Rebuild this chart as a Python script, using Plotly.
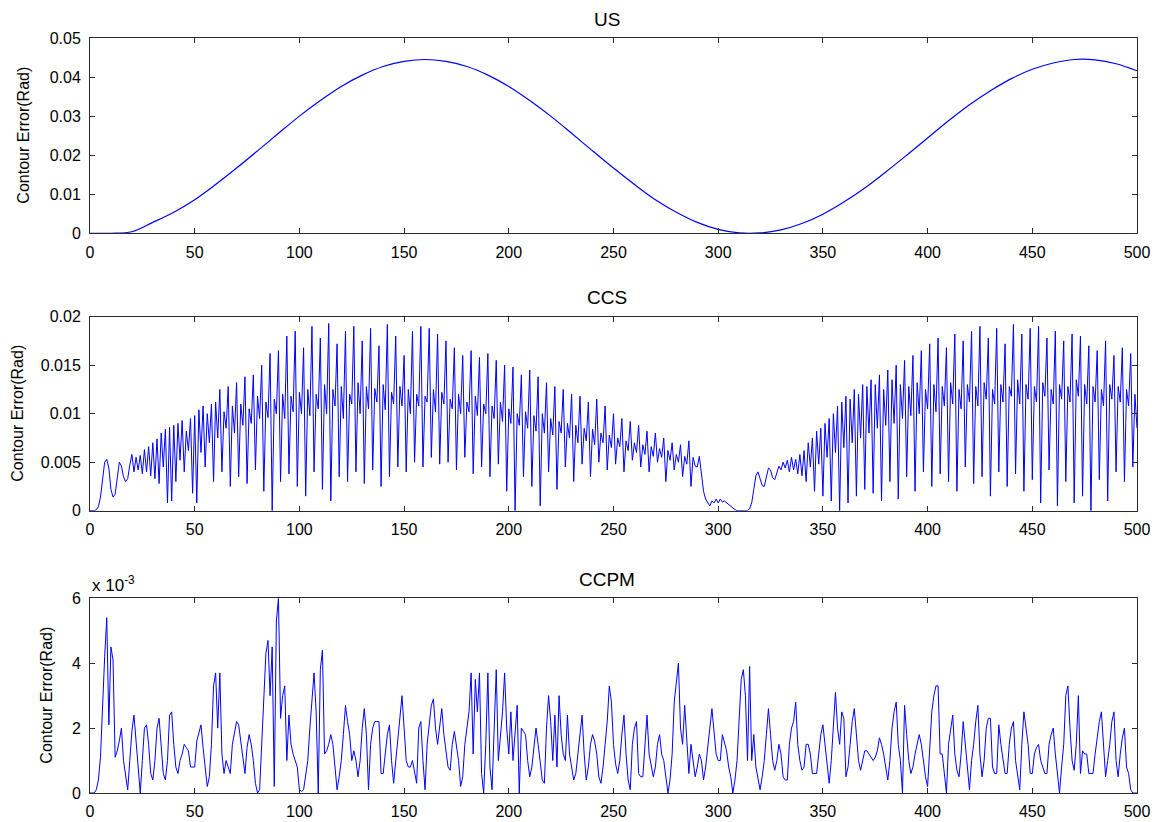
import numpy as np
import plotly.graph_objects as go

# ---------------- data ----------------
# US: contour error (rad), sampled every 10 steps
US_X = list(range(0, 501, 10))
US_ERR = [
    0.0000, 0.0000, 0.0004, 0.0028, 0.0054, 0.0086, 0.0125, 0.0167, 0.0211, 0.0256,
    0.0300, 0.0340, 0.0376, 0.0405, 0.0427, 0.0440, 0.0445, 0.0440, 0.0427, 0.0405,
    0.0376, 0.0340, 0.0300, 0.0256, 0.0211, 0.0167, 0.0125, 0.0086, 0.0054, 0.0028,
    0.0010, 0.0001, 0.0001, 0.0009, 0.0025, 0.0049, 0.0080, 0.0116, 0.0157, 0.0200,
    0.0244, 0.0288, 0.0329, 0.0365, 0.0396, 0.0420, 0.0436, 0.0445, 0.0444, 0.0434,
    0.0416,
]

# CCS: contour error in units of 1e-4 rad, one value per step (0..500)
CCS_ERR_E4 = [
    0, 0, 0, 1, 4, 14, 32, 50, 53, 44,
    22, 14, 17, 33, 50, 46, 35, 30, 33, 47,
    58, 40, 55, 42, 57, 38, 63, 40, 66, 36,
    70, 33, 74, 28, 80, 45, 84, 8, 86, 10,
    88, 30, 90, 52, 93, 40, 82, 62, 95, 18,
    98, 8, 104, 60, 108, 45, 100, 70, 110, 30,
    112, 75, 125, 40, 102, 85, 128, 25, 108, 80,
    132, 35, 110, 88, 138, 28, 105, 90, 140, 42,
    118, 95, 150, 20, 112, 96, 162, 0, 115, 100,
    165, 30, 120, 95, 180, 38, 118, 102, 185, 25,
    122, 100, 168, 15, 125, 98, 190, 40, 120, 105,
    178, 22, 130, 100, 193, 10, 125, 108, 172, 35,
    128, 95, 185, 30, 120, 110, 190, 40, 132, 100,
    175, 28, 128, 105, 188, 42, 126, 112, 170, 25,
    130, 104, 192, 35, 122, 110, 180, 45, 128, 108,
    160, 40, 125, 100, 185, 50, 120, 108, 190, 45,
    118, 112, 188, 55, 125, 102, 182, 48, 122, 110,
    175, 50, 115, 105, 168, 42, 120, 100, 160, 55,
    112, 102, 165, 38, 118, 98, 158, 45, 110, 100,
    162, 35, 108, 95, 155, 48, 112, 92, 150, 20,
    105, 90, 148, 0, 100, 88, 140, 35, 102, 85,
    145, 25, 98, 82, 138, 5, 100, 80, 132, 40,
    95, 78, 128, 22, 92, 80, 125, 45, 90, 75,
    120, 30, 88, 70, 118, 48, 85, 72, 112, 35,
    84, 68, 115, 50, 80, 70, 108, 42, 78, 65,
    100, 48, 75, 66, 95, 40, 72, 62, 92, 52,
    70, 60, 88, 45, 68, 58, 82, 40, 66, 56,
    80, 50, 64, 55, 75, 30, 62, 52, 70, 42,
    58, 50, 68, 35, 56, 48, 72, 25, 55, 46,
    45, 56, 40, 20, 12, 8, 5, 10, 8, 12,
    8, 12, 9, 10, 8, 6, 4, 2, 1, 0,
    0, 0, 0, 0, 0, 2, 8, 22, 36, 40,
    34, 26, 25, 35, 44, 42, 34, 32, 38, 46,
    42, 50, 44, 52, 40, 55, 42, 53, 38, 58,
    36, 62, 30, 70, 45, 75, 20, 82, 48, 85,
    15, 90, 55, 95, 10, 100, 60, 108, 0, 112,
    65, 118, 8, 115, 70, 125, 15, 120, 75, 130,
    22, 128, 80, 135, 18, 130, 85, 140, 10, 125,
    88, 145, 30, 135, 90, 150, 12, 130, 95, 155,
    35, 128, 98, 160, 20, 132, 100, 165, 40, 125,
    105, 172, 25, 130, 102, 178, 38, 128, 108, 168,
    30, 132, 110, 182, 20, 125, 105, 175, 45, 130,
    112, 185, 28, 128, 108, 190, 35, 132, 115, 178,
    15, 125, 110, 188, 40, 130, 112, 172, 25, 128,
    118, 192, 38, 135, 110, 182, 20, 130, 115, 188,
    32, 128, 112, 190, 8, 132, 118, 178, 42, 125,
    110, 185, 5, 130, 115, 175, 30, 128, 112, 182,
    8, 135, 118, 180, 15, 130, 110, 170, 0, 128,
    112, 165, 32, 125, 108, 175, 10, 130, 115, 160,
    40, 128, 112, 168, 30, 125, 108, 162, 45, 120,
    85,
]

# CCPM: contour error in units of 1e-3 rad, one value per step (0..500)
CCPM_ERR_E3 = [
    0.0, 0.0, 0.0, 0.1, 0.4, 1.1, 2.9, 4.2, 5.4, 2.1,
    4.5, 4.1, 1.1, 1.3, 1.6, 2.0, 1.0, 0.5, 0.1, 1.0,
    1.9, 2.4, 1.6, 1.0, 0.0, 1.0, 2.0, 2.1, 1.5, 0.6,
    0.4, 1.0, 2.0, 2.3, 1.5, 0.6, 0.4, 1.0, 2.4, 2.5,
    1.5, 0.8, 0.6, 1.0, 1.2, 1.5, 1.4, 1.3, 0.8, 0.8,
    0.8, 1.6, 1.9, 2.1, 1.4, 0.8, 0.2, 0.5, 1.5, 3.3,
    3.7, 2.0, 3.7, 1.2, 0.6, 1.0, 0.8, 0.6, 1.5, 1.9,
    2.2, 2.1, 1.6, 1.0, 0.6, 1.4, 1.8, 1.5, 1.0, 0.3,
    0.0, 0.1, 1.5, 2.8, 4.3, 4.7, 3.0, 4.5, 0.2, 5.3,
    6.0, 2.3, 3.0, 3.3, 1.0, 2.4, 1.5, 1.2, 1.0, 0.8,
    0.1, 0.05, 0.1, 0.5, 1.0, 2.0, 2.8, 3.7, 2.5, 0.0,
    3.8, 4.4, 1.2, 1.3, 1.5, 1.8, 1.5, 0.8, 0.1, 0.5,
    1.0, 1.8, 2.7, 2.2, 1.8, 1.0, 1.3, 1.0, 0.5, 1.0,
    2.0, 2.6, 1.8, 0.1, 1.5, 2.0, 2.2, 2.2, 2.2, 0.6,
    0.6, 1.2, 1.8, 2.1, 1.0, 0.3, 1.0, 1.8, 2.5, 3.0,
    2.0, 1.0, 0.8, 0.8, 1.0, 0.6, 0.3, 2.0, 2.2, 1.0,
    0.1, 1.5, 2.2, 2.7, 2.9, 2.0, 1.5, 2.0, 2.6, 1.8,
    1.2, 0.8, 0.7, 1.5, 1.9, 1.5, 1.0, 0.2, 0.5, 1.5,
    2.0, 2.5, 3.7, 1.2, 3.5, 2.5, 3.7, 0.6, 0.0, 1.5,
    3.7, 0.8, 0.1, 2.0, 3.8, 1.0, 1.8, 2.5, 3.7, 2.0,
    1.2, 2.5, 1.0, 2.0, 2.7, 0.0, 2.0, 1.9, 1.8, 1.0,
    0.5, 0.8, 1.5, 2.0, 1.5, 1.0, 0.4, 0.3, 2.0, 3.0,
    2.2, 1.0, 2.4, 0.8, 3.0, 1.8, 1.2, 1.0, 2.4, 1.2,
    0.8, 0.4, 0.6, 1.2, 1.8, 2.4, 1.2, 0.4, 0.8, 1.5,
    1.8, 1.6, 1.2, 0.5, 0.3, 0.8, 1.5, 2.2, 3.3, 2.8,
    1.5, 0.9, 0.6, 1.0, 1.8, 2.4, 1.2, 0.4, 0.1, 1.5,
    2.0, 2.2, 0.6, 0.5, 0.5, 1.5, 2.4, 1.2, 0.9, 0.5,
    0.8, 1.5, 1.8, 1.2, 1.0, 0.4, 0.0, 0.4, 1.2, 2.8,
    3.5, 4.0, 2.0, 1.5, 2.7, 1.5, 0.6, 1.5, 1.0, 0.5,
    0.8, 1.2, 1.0, 0.4, 0.8, 1.5, 2.0, 2.6, 1.8, 1.2,
    1.0, 1.0, 1.8, 1.5, 1.3, 0.8, 0.5, 0.0, 0.4, 1.0,
    2.5, 3.5, 3.8, 3.0, 1.0, 3.9, 1.0, 1.8, 0.8, 0.4,
    0.1, 0.5, 1.0, 1.8, 2.6, 1.8, 1.0, 0.7, 1.0, 1.5,
    1.2, 0.5, 0.4, 0.4, 1.5, 2.0, 2.2, 2.8, 1.5, 1.0,
    0.7, 0.8, 1.5, 1.5, 1.2, 0.6, 0.6, 0.6, 1.2, 1.8,
    2.1, 1.5, 0.8, 0.3, 1.0, 2.0, 3.1, 2.0, 1.5, 2.5,
    2.3, 0.5, 0.8, 1.5, 2.2, 2.6, 1.8, 1.0, 0.7, 1.0,
    1.3, 1.3, 1.2, 1.1, 1.0, 1.1, 1.3, 1.7, 1.5, 1.2,
    0.8, 0.4, 1.0, 2.0, 2.5, 2.8, 1.5, 1.0, 0.0, 2.7,
    1.8, 1.0, 0.6, 0.8, 1.2, 1.5, 1.8, 1.5, 1.0, 0.5,
    0.2, 1.5, 2.5, 3.0, 3.3, 3.3, 1.2, 1.2, 0.6, 0.0,
    1.5, 2.0, 2.4, 1.2, 0.7, 0.5, 1.2, 2.2, 1.5, 1.0,
    0.1, 1.0, 1.5, 2.2, 2.7, 1.2, 0.5, 1.0, 2.0, 2.3,
    2.3, 0.8, 0.6, 0.6, 2.1, 1.5, 1.0, 0.6, 0.6, 1.5,
    2.0, 2.2, 1.0, 0.5, 0.1, 1.5, 2.5, 2.0, 1.5, 0.6,
    0.6, 1.2, 1.4, 1.5, 1.0, 0.8, 0.6, 0.6, 1.5, 1.8,
    2.0, 1.2, 0.5, 0.0, 0.8, 1.5, 3.0, 3.3, 2.0, 1.0,
    0.7, 1.5, 3.0, 0.6, 1.3, 1.2, 1.2, 0.6, 0.6, 0.6,
    1.2, 1.7, 2.2, 2.5, 1.5, 0.5, 1.0, 1.5, 2.2, 2.5,
    1.0, 0.5, 1.2, 1.7, 2.0, 0.8, 0.6, 0.1, 0.0, 0.0,
    0.0,
]

X_TICKS = [0, 50, 100, 150, 200, 250, 300, 350, 400, 450, 500]
US_TICKS = [0, 0.01, 0.02, 0.03, 0.04, 0.05]
US_TICKTEXT = ["0", "0.01", "0.02", "0.03", "0.04", "0.05"]
CCS_TICKS = [0, 0.005, 0.01, 0.015, 0.02]
CCS_TICKTEXT = ["0", "0.005", "0.01", "0.015", "0.02"]
CCPM_TICKS = [0, 2, 4, 6]
CCPM_TICKTEXT = ["0", "2", "4", "6"]

PANEL_TITLES = ["US", "CCS", "CCPM"]
Y_LABEL = "Contour Error(Rad)"

# ---------------- figure ----------------
BLUE = "#0000ff"
FRAME = "#2b2b2b"
FONT = "Liberation Sans, Arial, sans-serif"

ccs_x = np.arange(len(CCS_ERR_E4))
ccs_y = np.array(CCS_ERR_E4) * 1e-4
ccpm_x = np.arange(len(CCPM_ERR_E3))

fig = go.Figure()
fig.add_trace(go.Scatter(x=US_X, y=US_ERR, mode="lines",
                         line=dict(color=BLUE, width=1.2, shape="spline"),
                         xaxis="x", yaxis="y"))
fig.add_trace(go.Scatter(x=ccs_x, y=ccs_y, mode="lines",
                         line=dict(color=BLUE, width=1),
                         xaxis="x2", yaxis="y2"))
fig.add_trace(go.Scatter(x=ccpm_x, y=CCPM_ERR_E3, mode="lines",
                         line=dict(color=BLUE, width=1),
                         xaxis="x3", yaxis="y3"))

domains = [(0.7413, 1.0), (0.3739, 0.6309), (0.0, 0.2579)]

axis_style = dict(
    showline=True, linecolor=FRAME, linewidth=1, mirror="allticks",
    ticks="inside", ticklen=5, tickcolor=FRAME, tickwidth=1,
    showgrid=False, zeroline=False, automargin=False,
    tickfont=dict(family=FONT, size=16, color="black"),
)

layout = dict(
    width=1161, height=822,
    margin=dict(l=90, r=24, t=38, b=29, autoexpand=False),
    paper_bgcolor="white", plot_bgcolor="white",
    showlegend=False,
    font=dict(family=FONT, color="black"),
)

y_specs = [
    ([0, 0.05], US_TICKS, US_TICKTEXT),
    ([0, 0.02], CCS_TICKS, CCS_TICKTEXT),
    ([0, 6], CCPM_TICKS, CCPM_TICKTEXT),
]
for i, (dom, (yr, tv, tt)) in enumerate(zip(domains, y_specs), start=1):
    sx = "" if i == 1 else str(i)
    layout["xaxis" + sx] = dict(axis_style, anchor="y" + sx, range=[0, 500],
                                tickvals=X_TICKS, ticklabelstandoff=4)
    layout["yaxis" + sx] = dict(axis_style, anchor="x" + sx, domain=list(dom),
                                range=yr, tickvals=tv, ticktext=tt,
                                ticklabelstandoff=5)

annotations = []
label_shift = [-66, -72, -43]
for dom, title, shift in zip(domains, PANEL_TITLES, label_shift):
    annotations.append(dict(text=title, xref="paper", yref="paper",
                            x=0.494, y=dom[1], yanchor="middle", yshift=19,
                            showarrow=False,
                            font=dict(family=FONT, size=19, color="black")))
    annotations.append(dict(text=Y_LABEL, xref="paper", yref="paper",
                            x=0, xshift=shift, y=(dom[0] + dom[1]) / 2,
                            xanchor="center", yanchor="middle",
                            textangle=-90, showarrow=False,
                            font=dict(family=FONT, size=16, color="black")))
annotations.append(dict(text="x 10<sup>-3</sup>", xref="paper", yref="paper",
                        x=0, y=domains[2][1], xanchor="left", yanchor="bottom",
                        yshift=1, showarrow=False,
                        font=dict(family=FONT, size=17, color="black")))
layout["annotations"] = annotations

fig.update_layout(**layout)
fig.write_html("out.html")
